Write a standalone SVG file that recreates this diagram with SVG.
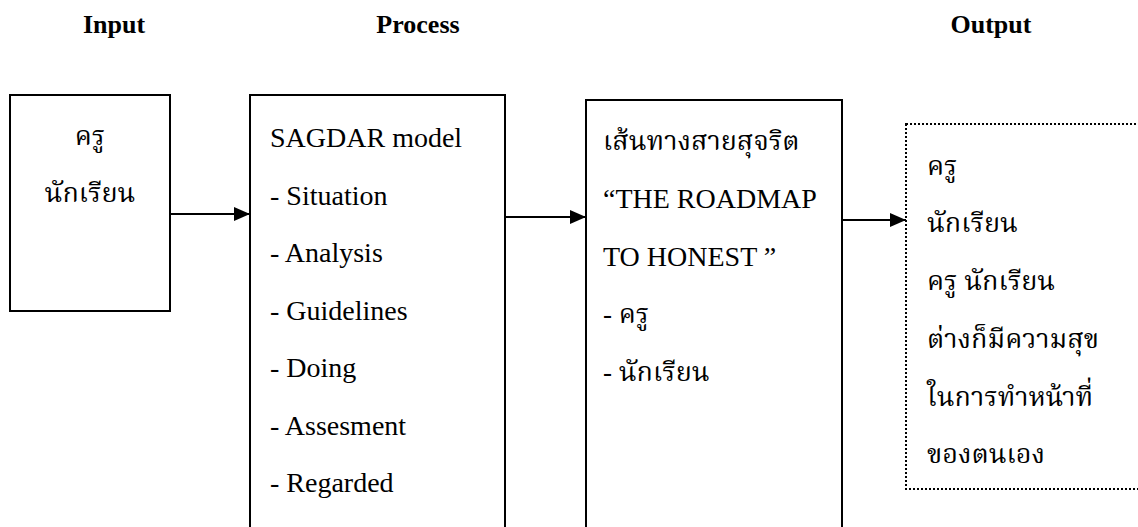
<svg xmlns="http://www.w3.org/2000/svg" width="1138" height="527" viewBox="0 0 1138 527">
  <style>
    .title { font-family: "Liberation Serif", "Times New Roman", serif; font-weight: bold; font-size: 26px; fill: #000; text-anchor: middle; }
    .txt { font-family: "Liberation Serif", "Times New Roman", serif; font-size: 28px; fill: #000; }
    .th { font-family: "Liberation Serif", "Noto Serif Thai", "Noto Sans Thai", serif; font-size: 27px; fill: #000; }
    .box { fill: #fff; stroke: #000; stroke-width: 2; }
    .dotted { fill: #fff; stroke: #000; stroke-width: 2; stroke-dasharray: 2 2; }
    .conn { stroke: #000; stroke-width: 2; fill: none; }
  </style>
  <defs>
    <marker id="arrow" markerUnits="userSpaceOnUse" markerWidth="16" markerHeight="14" refX="16" refY="7" orient="auto">
      <path d="M0,0 L16,7 L0,14 Z" fill="#000"/>
    </marker>
  </defs>
  <rect width="1138" height="527" fill="#fff"/>

  <g id="titles">
    <text class="title" x="114" y="33">Input</text>
    <text class="title" x="418" y="33">Process</text>
    <text class="title" x="991" y="33">Output</text>
  </g>

  <g id="input">
    <rect class="box" x="10" y="95" width="160" height="216"/>
    <text class="th" x="90" y="145" text-anchor="middle">ครู</text>
    <text class="th" x="90" y="202" text-anchor="middle">นักเรียน</text>
  </g>

  <g id="process">
    <rect class="box" x="250" y="95" width="255" height="440"/>
    <text class="txt" x="270" y="147">SAGDAR model</text>
    <text class="txt" x="270" y="204.5">- Situation</text>
    <text class="txt" x="270" y="262">- Analysis</text>
    <text class="txt" x="270" y="319.5">- Guidelines</text>
    <text class="txt" x="270" y="377">- Doing</text>
    <text class="txt" x="270" y="434.5">- Assesment</text>
    <text class="txt" x="270" y="492">- Regarded</text>
  </g>

  <g id="roadmap">
    <rect class="box" x="586" y="100" width="256" height="440"/>
    <text class="th" x="603" y="150">เส้นทางสายสุจริต</text>
    <text class="txt" x="603" y="208">“THE ROADMAP</text>
    <text class="txt" x="603" y="265.5">TO HONEST ”</text>
    <text class="th" x="603" y="323">- ครู</text>
    <text class="th" x="603" y="380.5">- นักเรียน</text>
  </g>

  <g id="output">
    <rect class="dotted" x="906" y="124" width="240" height="365"/>
    <text class="th" x="927" y="175">ครู</text>
    <text class="th" x="927" y="232">นักเรียน</text>
    <text class="th" x="927" y="290">ครู นักเรียน</text>
    <text class="th" x="927" y="348">ต่างก็มีความสุข</text>
    <text class="th" x="927" y="405.5">ในการทำหน้าที่</text>
    <text class="th" x="927" y="463">ของตนเอง</text>
  </g>

  <g id="connectors">
    <line class="conn" x1="170" y1="214" x2="250" y2="214" marker-end="url(#arrow)"/>
    <line class="conn" x1="505" y1="217" x2="586" y2="217" marker-end="url(#arrow)"/>
    <line class="conn" x1="842" y1="220" x2="906" y2="220" marker-end="url(#arrow)"/>
  </g>
</svg>
